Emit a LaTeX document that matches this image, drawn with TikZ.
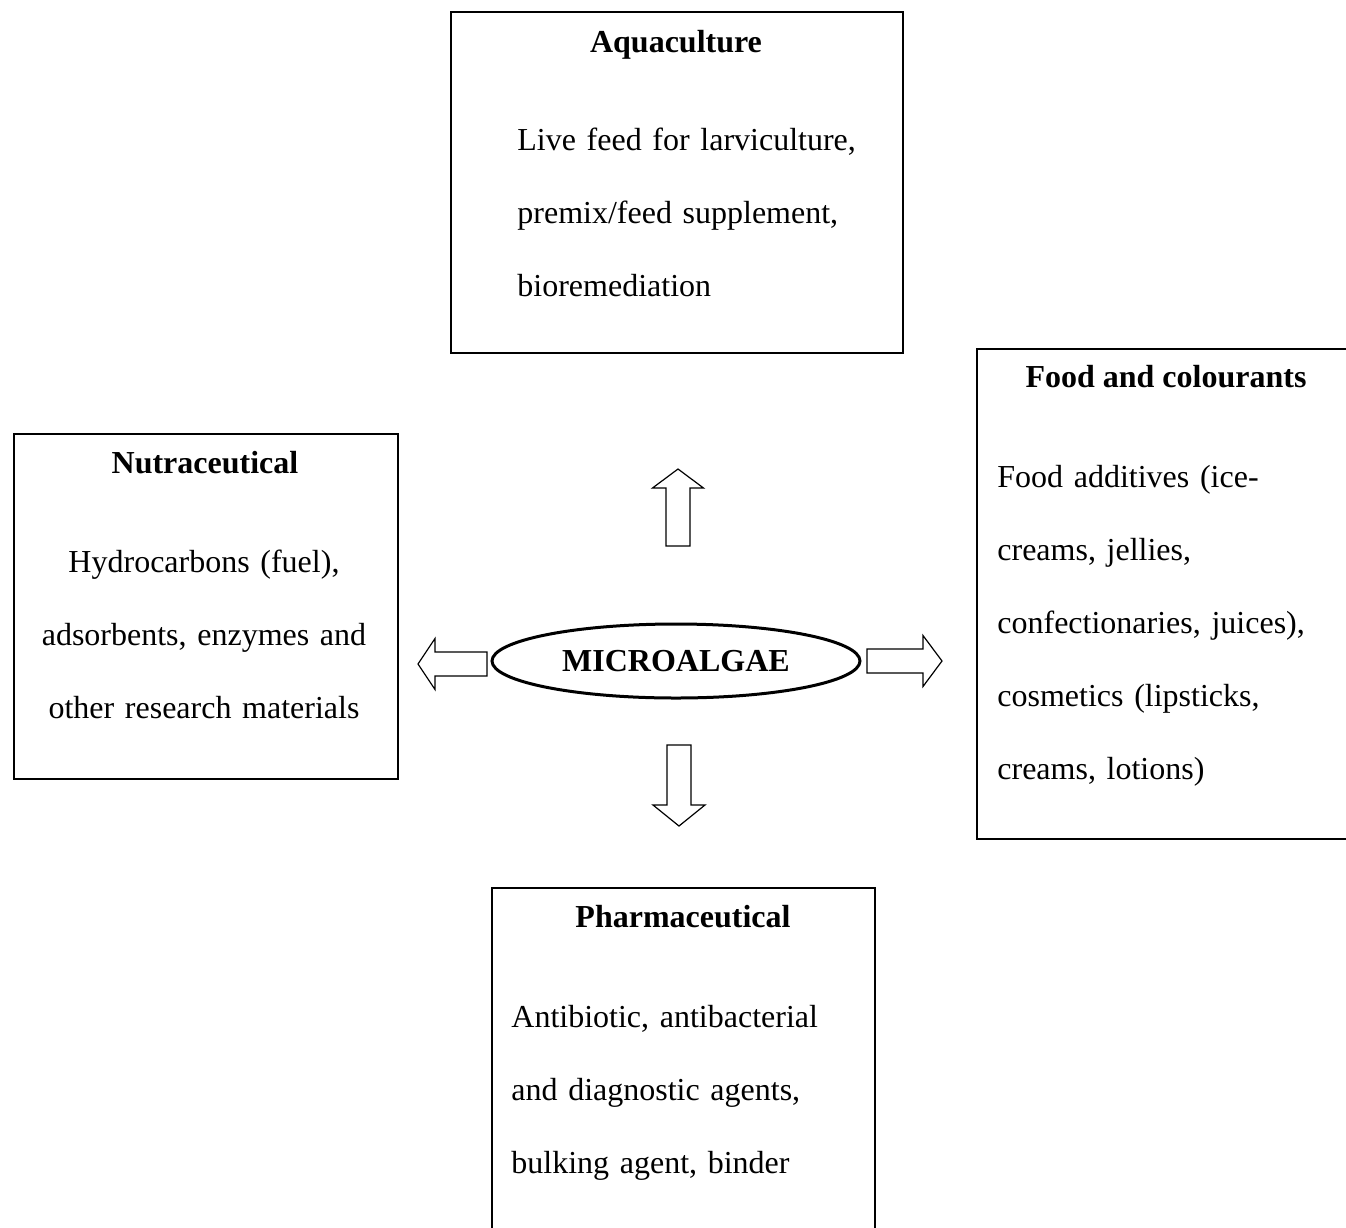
\documentclass[tikz,border=0pt]{standalone}
\usepackage{fontspec}
\setmainfont{Liberation Serif}
\usetikzlibrary{shapes.geometric, positioning}
\tikzset{box/.style={draw, line width=0.75pt, anchor=north west, inner sep=0pt}}
\tikzset{heading/.style={anchor=base, inner sep=0pt, font=\bfseries\fontsize{16}{19}\selectfont}}
\tikzset{body/.style={anchor=base west, inner sep=0pt, align=left, font=\fontsize{16}{36.5}\selectfont}}
\tikzset{centre/.style={ellipse, draw, line width=1.5pt, inner sep=0pt, minimum width=184pt, minimum height=37pt, font=\bfseries\fontsize{16}{19}\selectfont}}
\tikzstyle{blockarrow} = [draw, line width=0.6pt, fill=white, line join=miter]

\begin{document}
\begin{tikzpicture}[x=0.5pt, y=-0.5pt]
	\useasboundingbox (0,0) rectangle (1346,1228);
	% Nodes
		\node (microalgae) [centre] at (676,661) {MICROALGAE};

		\node (aquaculture) [box, minimum width=226pt, minimum height=170.5pt] at (450,11) {};
		\node (aquacultureTitle) [heading] at (676,52) {Aquaculture};
		\node (aquacultureText) [body, text width=180pt] at (517,150) {Live feed for larviculture,\\ premix/feed supplement,\\ bioremediation};

		\node (food) [box, minimum width=192pt, minimum height=245pt] at (976,348) {};
		\node (foodTitle) [heading] at (1166,387) {Food and colourants};
		\node (foodText) [body, text width=170pt] at (997,487) {Food additives (ice-\\ creams, jellies,\\ confectionaries, juices),\\ cosmetics (lipsticks,\\ creams, lotions)};

		\node (nutraceutical) [box, minimum width=192pt, minimum height=172.5pt] at (13,433) {};
		\node (nutraceuticalTitle) [heading] at (205,473) {Nutraceutical};
		\node (nutraceuticalText) [body, anchor=base, align=center, text width=180pt] at (204,572) {Hydrocarbons (fuel),\\ adsorbents, enzymes and\\ other research materials};

		\node (pharmaceutical) [box, minimum width=191.5pt, minimum height=176.5pt] at (491,887) {};
		\node (pharmaceuticalTitle) [heading] at (683,927) {Pharmaceutical};
		\node (pharmaceuticalText) [body, text width=170pt] at (511,1027) {Antibiotic, antibacterial\\ and diagnostic agents,\\ bulking agent, binder};

		% Arrows
		\draw [blockarrow, shift={(678,546)}, rotate=90] (0,-12) -- (58,-12) -- (58,-25.5) -- (77,0) -- (58,25.5) -- (58,12) -- (0,12) -- cycle;
		\draw [blockarrow, shift={(679,745)}, rotate=-90] (0,-12) -- (60,-12) -- (60,-26) -- (81,0) -- (60,26) -- (60,12) -- (0,12) -- cycle;
		\draw [blockarrow, shift={(487,664)}, rotate=180] (0,-12) -- (52,-12) -- (52,-25.5) -- (69,0) -- (52,25.5) -- (52,12) -- (0,12) -- cycle;
		\draw [blockarrow, shift={(867,661)}] (0,-12) -- (56,-12) -- (56,-25.5) -- (75,0) -- (56,25.5) -- (56,12) -- (0,12) -- cycle;
\end{tikzpicture}
\end{document}
